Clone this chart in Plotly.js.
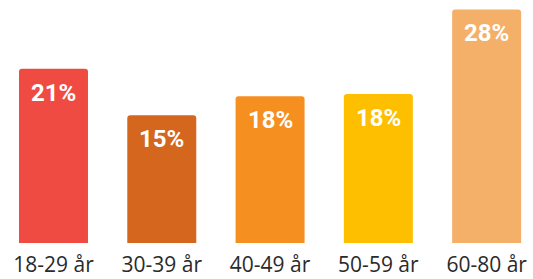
<!DOCTYPE html>
<html>
<head>
<meta charset="utf-8">
<script src="https://cdn.plot.ly/plotly-3.0.1.min.js"></script>
<style>html,body{margin:0;padding:0;background:#fff;}#chart{width:533px;height:279px;}</style>
</head>
<body>
<div id="chart"></div>
<script>
const categories = ["18-29 år", "30-39 år", "40-49 år", "50-59 år", "60-80 år"];
const values = [20.9, 15.3, 17.6, 17.85, 28.0];
const labels = ["21%", "15%", "18%", "18%", "28%"];
const colors = ["#F04B42", "#D4661E", "#F58F20", "#FDBF00", "#F4AF68"];

const trace = {
  type: "bar",
  x: categories,
  y: values,
  marker: {color: colors, cornerradius: 3, line: {width: 0}},
  hoverinfo: "none"
};

const annotations = categories.map((c, i) => ({
  x: c, y: values[i], xref: "x", yref: "y",
  text: labels[i], showarrow: false,
  yanchor: "top", yshift: -8,
  font: {family: "Roboto, 'Open Sans', sans-serif", size: 24, color: "#ffffff", weight: "bold"}
}));

const layout = {
  width: 533, height: 279,
  margin: {l: 0, r: 0, t: 0, b: 36, pad: 0},
  paper_bgcolor: "#ffffff", plot_bgcolor: "#ffffff",
  bargap: 0.363,
  showlegend: false,
  xaxis: {
    type: "category", range: [-0.494, 4.428],
    showgrid: false, zeroline: false, showline: false, ticks: "",
    ticklabelstandoff: 7,
    tickfont: {family: "'Open Sans', sans-serif", size: 21, color: "#2a2a2a"}
  },
  yaxis: {range: [0, 29.13], visible: false, showgrid: false, zeroline: false},
  annotations: annotations
};

Plotly.newPlot("chart", [trace], layout, {displayModeBar: false, staticPlot: true});
</script>
</body>
</html>
